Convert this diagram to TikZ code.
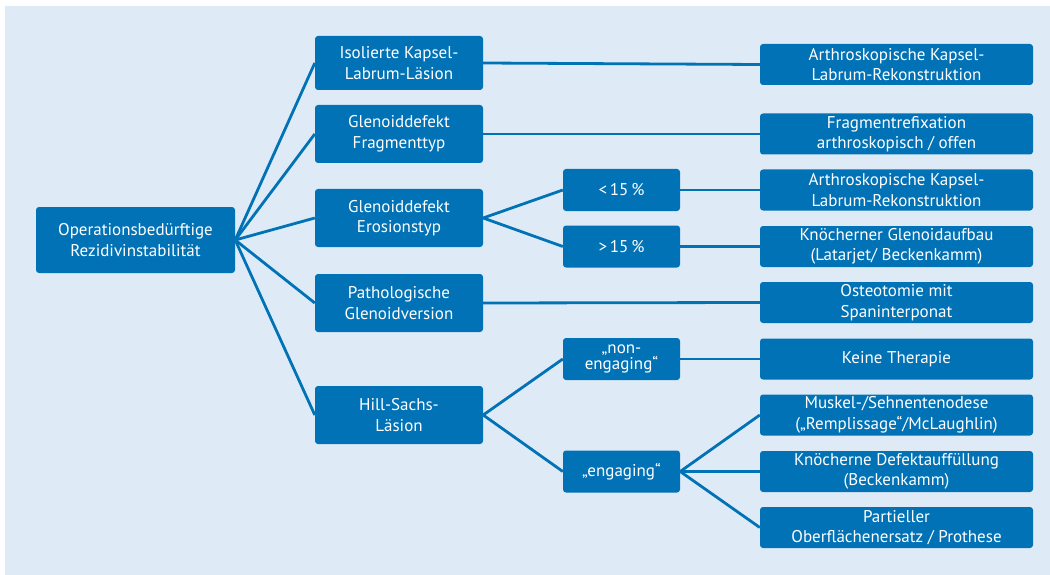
\documentclass[tikz,border=0pt]{standalone}
\usepackage{fontspec}
\setmainfont{PT Sans}
\definecolor{boxblue}{RGB}{0,114,181}
\definecolor{bgblue}{RGB}{222,235,247}
\begin{document}
\begin{tikzpicture}[x=1pt,y=-1pt,
  box/.style={fill=boxblue,draw=none,rounded corners=3pt,text=white,font=\fontsize{17}{20.5}\selectfont,align=center,inner sep=0pt},
  conn/.style={draw=boxblue,line width=2.8pt}]
\useasboundingbox (0,0) rectangle (1050,575);
\fill[white] (0,0) rectangle (1050,575);
\fill[bgblue] (5,6) rectangle (1050,575);
% root
\node[box,minimum width=199pt,minimum height=66pt] (root) at (135.5,240) {Operationsbedürftige\\Rezidivinstabilität};
% level 1
\tikzset{l1/.style={box,minimum width=168pt,minimum height=56pt}}
\node[l1,minimum height=54pt] (a) at (399,63) {Isolierte Kapsel-\\Labrum-Läsion};
\node[l1,minimum height=58pt] (b) at (399,134) {Glenoiddefekt\\Fragmenttyp};
\node[l1,minimum height=58pt] (c) at (399,218) {Glenoiddefekt\\Erosionstyp};
\node[l1,minimum height=58pt] (d) at (399,303) {Pathologische\\Glenoidversion};
\node[l1,minimum height=58pt] (e) at (399,415) {Hill-Sachs-\\Läsion};
% level 2
\tikzset{l2/.style={box,minimum width=117pt,minimum height=42pt}}
\node[l2] (lt) at (621.5,190) {<\,15\,\%};
\node[l2] (gt) at (621.5,246.5) {>\,15\,\%};
\node[l2,font=\fontsize{17}{16.5}\selectfont] (ne) at (621.5,359) {„non-\\engaging“};
\node[l2] (en) at (621.5,471.5) {„engaging“};
% right column
\tikzset{r/.style={box,minimum width=273pt,minimum height=41pt}}
\node[r] (r1) at (896.5,64.5) {Arthroskopische Kapsel-\\Labrum-Rekonstruktion};
\node[r] (r2) at (896.5,134) {Fragmentrefixation\\arthroskopisch / offen};
\node[r] (r3) at (896.5,190) {Arthroskopische Kapsel-\\Labrum-Rekonstruktion};
\node[r] (r4) at (896.5,246.5) {Knöcherner Glenoidaufbau\\(Latarjet/ Beckenkamm)};
\node[r] (r5) at (896.5,302.5) {Osteotomie mit\\Spaninterponat};
\node[r] (r6) at (896.5,359) {Keine Therapie};
\node[r] (r7) at (896.5,415) {Muskel-/Sehnentenodese\\(„Remplissage“/McLaughlin)};
\node[r] (r8) at (896.5,471.5) {Knöcherne Defektauffüllung\\(Beckenkamm)};
\node[r] (r9) at (896.5,527.5) {Partieller\\Oberflächenersatz / Prothese};
% connectors
\foreach \t in {a,b,c,d,e} \draw[conn] (root.east) -- (\t.west);
\draw[conn] (a.east) -- (r1.west);
\draw[conn] (b.east) -- (r2.west);
\draw[conn] (c.east) -- (lt.west);
\draw[conn] (c.east) -- (gt.west);
\draw[conn] (lt.east) -- (r3.west);
\draw[conn] (gt.east) -- (r4.west);
\draw[conn] (d.east) -- (r5.west);
\draw[conn] (e.east) -- (ne.west);
\draw[conn] (e.east) -- (en.west);
\draw[conn] (ne.east) -- (r6.west);
\foreach \t in {r7,r8,r9} \draw[conn] (en.east) -- (\t.west);
\end{tikzpicture}
\end{document}
